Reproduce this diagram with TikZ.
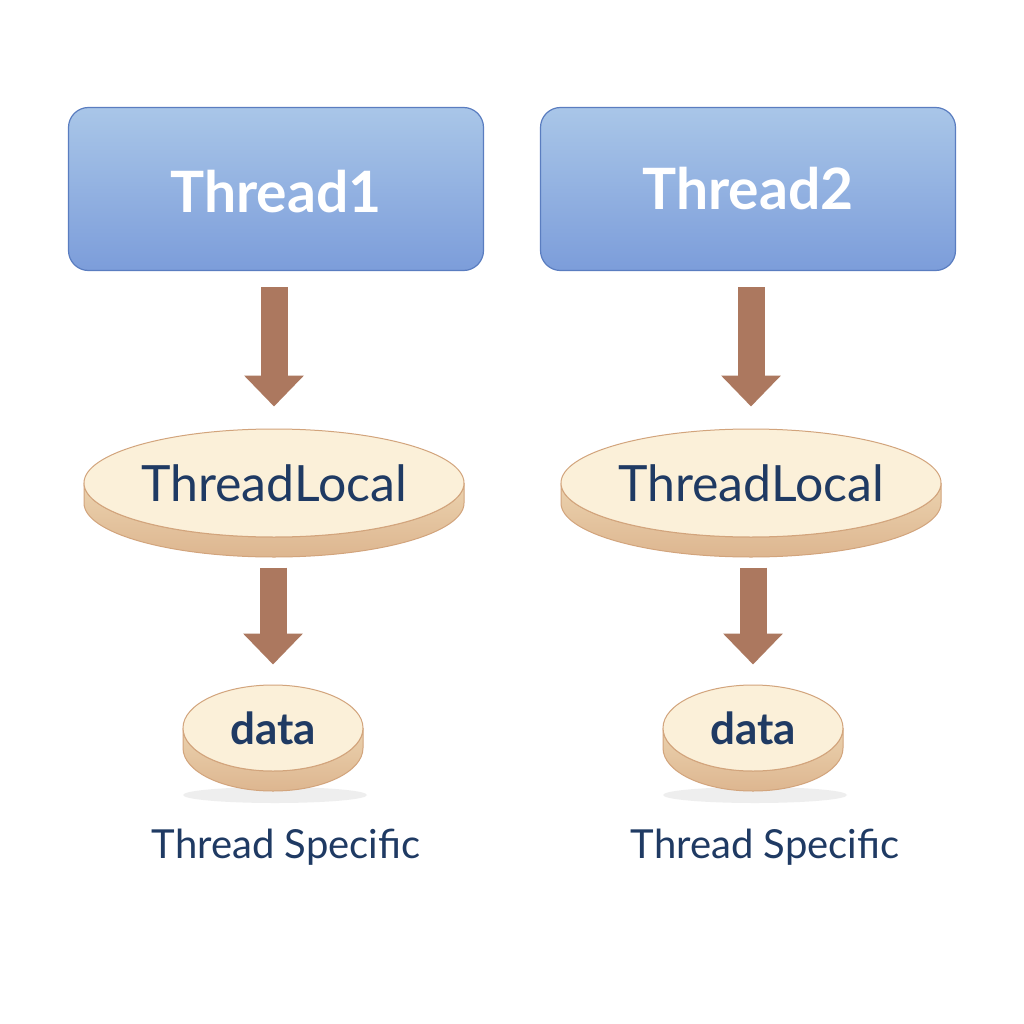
\documentclass[tikz,border=0pt]{standalone}
\usepackage{fontspec}
\setmainfont{Lato}
\usetikzlibrary{arrows.meta,shapes.geometric}
\definecolor{boxtop}{HTML}{A9C6E8}
\definecolor{boxbot}{HTML}{7C9DDA}
\definecolor{boxline}{HTML}{5A7DC0}
\definecolor{arrowc}{HTML}{AC785F}
\definecolor{facec}{HTML}{FBF0D9}
\definecolor{sidetop}{HTML}{EBD2AE}
\definecolor{sidebot}{HTML}{DDB690}
\definecolor{discline}{HTML}{D2A47C}
\definecolor{navy}{HTML}{1F3A63}
\tikzset{
  threadbox/.style={rectangle, rounded corners=20pt, draw=boxline, line width=1.2pt,
    top color=boxtop, bottom color=boxbot, minimum width=415pt, minimum height=163pt,
    text=white, font=\fontsize{57}{60}\selectfont\bfseries, inner sep=0pt},
  discface/.style={ellipse, draw=discline, line width=1pt, fill=facec, inner sep=0pt},
  discside/.style={draw=discline, line width=1pt, top color=sidetop, bottom color=sidebot},
  bigarrow/.style={draw=arrowc, line width=27pt, -{Triangle[length=31pt,width=58pt]}},
  caption/.style={text=navy, font=\fontsize{40}{44}\selectfont}
}
\newcommand{\discside}[4]{%
  \path[discside] (#1-#3,#2) -- (#1-#3,#2+20) arc[start angle=180,end angle=360,x radius=#3,y radius=-#4] -- (#1+#3,#2) arc[start angle=0,end angle=-180,x radius=#3,y radius=-#4] -- cycle;}
\begin{document}
\begin{tikzpicture}[x=1pt,y=-1pt]
\useasboundingbox[fill=white] (0,0) rectangle (1024,1024);
% thread boxes
\node[threadbox, text depth=0pt] (t1) at (276,189) {\raisebox{-4pt}{Thread1}};
\node[threadbox] (t2) at (748,189) {\raisebox{-4pt}{Thread2}};
% disc sides
\discside{274}{483}{190}{54}
\discside{751}{483}{190}{54}
% shadows under data
\fill[gray!25, opacity=0.5] (275,795) ellipse[x radius=92, y radius=8];
\fill[gray!25, opacity=0.5] (755,795) ellipse[x radius=92, y radius=8];
\discside{273}{728}{90}{43}
\discside{753}{728}{90}{43}
% faces
\node[discface, minimum width=380pt, minimum height=108pt, text=navy,
  font=\fontsize{50}{54}\selectfont] (tl1) at (274,483) {\raisebox{-4pt}{ThreadLocal}};
\node[discface, minimum width=380pt, minimum height=108pt, text=navy,
  font=\fontsize{50}{54}\selectfont] (tl2) at (751,483) {\raisebox{-4pt}{ThreadLocal}};
\node[discface, minimum width=180pt, minimum height=86pt, text=navy,
  font=\fontsize{44}{46}\selectfont\bfseries] (d1) at (273,728) {\raisebox{-6pt}{data}};
\node[discface, minimum width=180pt, minimum height=86pt, text=navy,
  font=\fontsize{44}{46}\selectfont\bfseries] (d2) at (753,728) {\raisebox{-6pt}{data}};
% captions
\node[caption] (c1) at (286,847) {Thread Specific};
\node[caption] (c2) at (765,847) {Thread Specific};
% arrows
\draw[bigarrow, shorten <=16pt, shorten >=22pt] (t1.south -| tl1.north) -- (tl1.north);
\draw[bigarrow, shorten <=16pt, shorten >=22pt] (t2.south -| tl2.north) -- (tl2.north);
\draw[bigarrow, shorten <=30pt, shorten >=20pt] (tl1.south -| d1.north) -- (d1.north);
\draw[bigarrow, shorten <=30pt, shorten >=20pt] (tl2.south -| d2.north) -- (d2.north);
\end{tikzpicture}
\end{document}
